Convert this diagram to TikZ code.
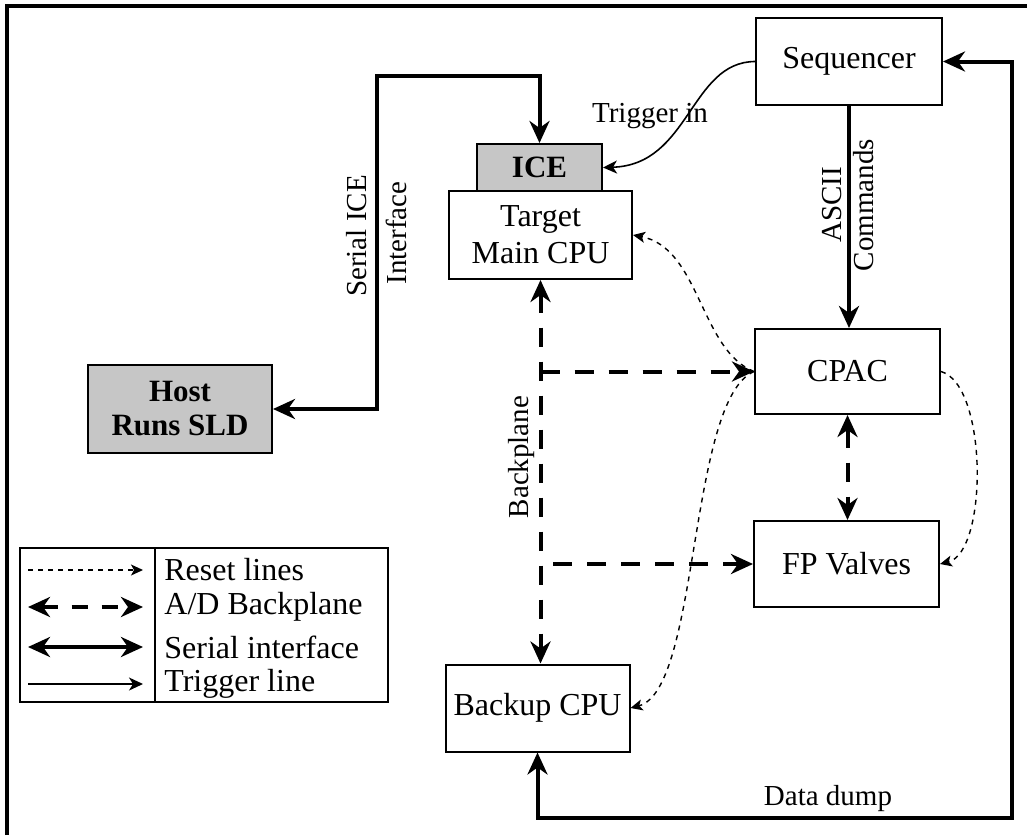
\documentclass[tikz,border=0pt]{standalone}
\usepackage{fontspec}
\setmainfont{Liberation Serif}
\usetikzlibrary{arrows.meta}
\begin{document}
\begin{tikzpicture}[x=0.5pt,y=-0.5pt,
  box/.style={draw, line width=1pt, inner sep=0pt, align=center, font=\fontsize{16}{18.5}\selectfont},
  shadedbox/.style={box, fill=gray!45, font=\fontsize{15.5}{17}\selectfont\bfseries},
  lbl/.style={font=\fontsize{14.5}{16}\selectfont, inner sep=1pt},
  leglbl/.style={font=\fontsize{16}{18}\selectfont, inner sep=1pt, anchor=west},
  serial/.style={line width=2pt, >={Stealth[length=11pt,width=10pt,inset=3.5pt]}},
  bp/.style={line width=2pt, dash pattern=on 9.5pt off 7.5pt, >={Stealth[length=11pt,width=10pt,inset=3.5pt]}},
  reset/.style={line width=0.7pt, dash pattern=on 2.5pt off 2.5pt, ->, >={Stealth[length=6pt,width=5.5pt,inset=1.5pt]}},
  trig/.style={line width=0.8pt, ->, >={Stealth[length=7pt,width=6.5pt,inset=2pt]}},
]
\useasboundingbox (0,0) rectangle (1027,835);
% frame
\coordinate (fbl) at (7,835);
\coordinate (ftl) at (7,6);
\coordinate (ftr) at (1027,6);
\draw[line width=1.6pt] (fbl) -- (ftl) -- (ftr);

% nodes
\node[box, minimum width=93pt, minimum height=43.5pt] (seq) at (849,61.5) {Sequencer};
\node[shadedbox, minimum width=62.5pt, minimum height=23.5pt] (ice) at (539.5,167.5) {ICE};
\node[box, minimum width=91.5pt, minimum height=44pt] (target) at (540.5,235) {Target\\Main CPU};
\node[shadedbox, minimum width=92pt, minimum height=44pt] (host) at (180,409) {Host\\Runs SLD};
\node[box, minimum width=92.5pt, minimum height=42.5pt] (cpac) at (847.5,371.5) {CPAC};
\node[box, minimum width=92.5pt, minimum height=43pt] (fp) at (846.5,564) {FP Valves};
\node[box, minimum width=92pt, minimum height=43.5pt] (backup) at (537.5,708) {Backup CPU};

% serial ICE interface
\coordinate (s1) at (377,76);
\draw[serial,<->] (host.east) -| (s1) -| (ice.north);
\node[lbl, rotate=90] (lsi) at (357,236) {Serial ICE};
\node[lbl, rotate=90] (lif) at (396,233) {Interface};

% data dump
\coordinate (d1) at (1012,818);
\draw[serial,<->] (backup.south) |- (d1) |- (seq.east);
\node[lbl] (ldd) at (828,799) {Data dump};

% ASCII commands
\draw[serial,->] (seq.south) -- (seq.south |- cpac.north);
\node[lbl, rotate=90] (las) at (832,205) {ASCII};
\node[lbl, rotate=90] (lcm) at (864,205) {Commands};

% trigger
\draw[trig] (seq.west) .. controls (690,62) and (690,165) .. (ice.east);
\node[lbl] (ltr) at (650,116) {Trigger in};

% backplane
\draw[bp,<->] (target.south) -- (target.south |- backup.north);
\coordinate (b1) at (target.south |- cpac.west);
\draw[bp,->] (b1) -- (cpac.west);
\coordinate (b2) at (553,564);
\draw[bp,->] (b2) -- (fp.west);
\draw[bp,<->] (cpac.south) -- (cpac.south |- fp.north);
\node[lbl, rotate=90] (lbp) at (522,457) {Backplane};

% reset lines
\draw[reset] (cpac.west) .. controls (700,350) and (700,248) .. (target.east);
\draw[reset] (cpac.west) .. controls (688,400) and (700,690) .. (backup.east);
\draw[reset] (cpac.east) .. controls (988,385) and (988,552) .. (fp.east);

% legend
\node[draw, line width=1pt, minimum width=184pt, minimum height=77pt, inner sep=0pt] (legend) at (204,625) {};
\coordinate (ldt) at (155,548);
\coordinate (ldb) at (155,702);
\draw[line width=1pt] (ldt) -- (ldb);
\coordinate (r1a) at (28,570); \coordinate (r1b) at (143,570);
\coordinate (r2a) at (28,607); \coordinate (r2b) at (143,607);
\coordinate (r3a) at (28,647); \coordinate (r3b) at (143,647);
\coordinate (r4a) at (28,684); \coordinate (r4b) at (143,684);
\draw[reset] (r1a) -- (r1b);
\draw[bp,<->, dash pattern=on 8pt off 7pt] (r2a) -- (r2b);
\draw[serial,<->] (r3a) -- (r3b);
\draw[trig] (r4a) -- (r4b);
\node[leglbl] (t1) at (162,570) {Reset lines};
\node[leglbl] (t2) at (162,607) {A/D Backplane};
\node[leglbl] (t3) at (162,647) {Serial interface};
\node[leglbl] (t4) at (162,684) {Trigger line};
\end{tikzpicture}
\end{document}
